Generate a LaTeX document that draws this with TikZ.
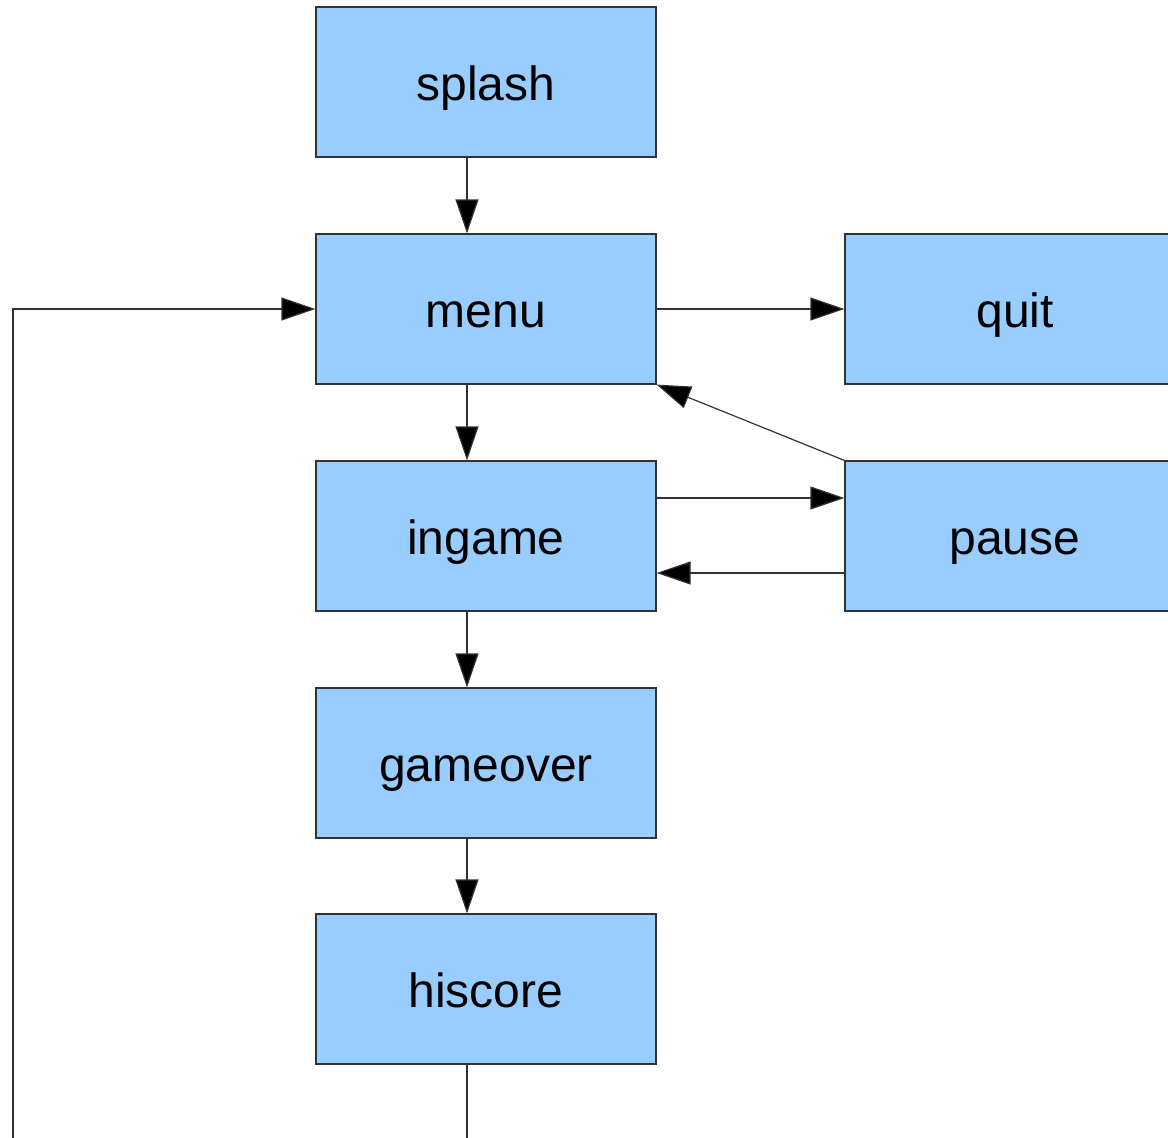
\documentclass[tikz,border=0pt]{standalone}
\usepackage{fontspec}
\setmainfont{Liberation Sans}
\usetikzlibrary{arrows.meta,positioning}

\definecolor{boxblue}{HTML}{99CCFF}
\definecolor{edgegray}{HTML}{333333}

\begin{document}
\begin{tikzpicture}[
    x=0.5pt, y=-0.5pt,
    state/.style={rectangle, draw=edgegray, fill=boxblue, line width=0.6pt,
        minimum width=170pt, minimum height=75pt, inner sep=0pt,
        text height=23pt, text depth=5pt,
        font=\fontsize{24}{28}\selectfont},
    link/.style={draw=edgegray, line width=0.6pt,
        -{Triangle[length=17pt,width=11.5pt,fill=black]}}
]

\useasboundingbox (0,0) rectangle (1168,1137);

% States
\node[state] (splash) at (486, 82) {splash};
\node[state] (menu) at (486, 309) {menu};
\node[state] (ingame) at (486, 536) {ingame};
\node[state] (gameover) at (486, 763) {gameover};
\node[state] (hiscore) at (486, 989) {hiscore};
\node[state] (quit) at (1015, 309) {quit};
\node[state] (pause) at (1015, 536) {pause};

% Return path corner (below the page)
\coordinate (back) at (13, 1200);

% Main column
\draw[link] ([xshift=-9.5pt]splash.south) -- ([xshift=-9.5pt]menu.north);
\draw[link] ([xshift=-9.5pt]menu.south) -- ([xshift=-9.5pt]ingame.north);
\draw[link] ([xshift=-9.5pt]ingame.south) -- ([xshift=-9.5pt]gameover.north);
\draw[link] ([xshift=-9.5pt]gameover.south) -- ([xshift=-9.5pt]hiscore.north);

% Side branches
\draw[link] (menu.east) -- (quit.west);
\draw[link] ([yshift=19pt]ingame.east) -- ([yshift=19pt]pause.west);
\draw[link] ([yshift=-18.5pt]pause.west) -- ([yshift=-18.5pt]ingame.east);
\draw[link] (pause.north west) -- (menu.south east);

% Back to menu
\draw[link] ([xshift=-9.5pt]hiscore.south) |- (back) |- (menu.west);

\end{tikzpicture}
\end{document}
